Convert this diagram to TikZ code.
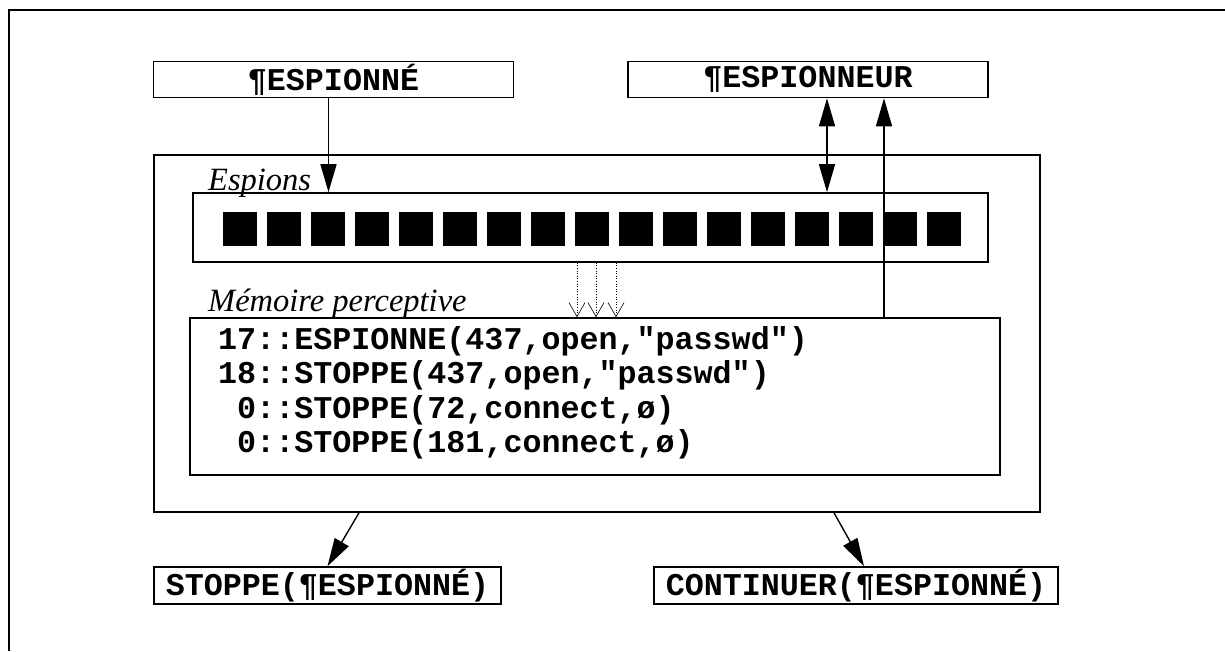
\documentclass[tikz,border=0pt]{standalone}
\usepackage{fontspec}
\setmainfont{Liberation Serif}
\setmonofont{Liberation Mono}
\usepackage{tikz}
\usetikzlibrary{arrows.meta}
\tikzstyle{namebox} = [draw=black, line width=1.6pt, rectangle, inner sep=0pt,
font=\ttfamily\bfseries\fontsize{31.7}{34.5}\selectfont]
\tikzstyle{zone} = [draw=black, line width=1.6pt, rectangle, inner sep=0pt]
\tikzstyle{zonelabel} = [anchor=base west, inner sep=0pt, font=\itshape\fontsize{32.5}{34}\selectfont]
\tikzstyle{fleche} = [line width=1.4pt, -{Triangle[length=28pt,width=16pt]}]
\tikzstyle{fleches} = [line width=1.4pt, {Triangle[length=28pt,width=16pt]}-{Triangle[length=28pt,width=16pt]}]
\tikzstyle{percept} = [line width=0.6pt, dotted, -{Straight Barb[length=14pt,width=16pt,line width=0.6pt]}]

\begin{document}
\begin{tikzpicture}[x=1pt, y=-1pt]
        \useasboundingbox (0,0) rectangle (1225,651);
        \draw[line width=2.5pt] (9,651) -- (9,10) -- (1225,10);
        \node [namebox, minimum width=360pt, minimum height=36pt] (espionne) at (333.5,79.5) {¶ESPIONNÉ};
        \node [namebox, minimum width=360pt, minimum height=36pt] (espionneur) at (808,79.5) {¶ESPIONNEUR};
        \node [zone, minimum width=886pt, minimum height=357pt] (agent) at (597,333.5) {};
        \node [zone, minimum width=795pt, minimum height=69pt] (espions) at (590.5,227.5) {};
        \node [zone, minimum width=810pt, minimum height=157pt] (memoire) at (595,396.5) {};
        \node [zonelabel] (lblespions) at (208,190) {Espions};
        \node [zonelabel] (lblmemoire) at (208,311) {Mémoire perceptive};
        \foreach \i in {0,...,16}
            \fill (223+44*\i,212) rectangle ++(34,34);
        \node [anchor=north west, inner sep=0pt, align=left,
            font=\ttfamily\bfseries\fontsize{31.7}{34.5}\selectfont] (perceptions) at (218,326) {%
            17::ESPIONNE(437,open,"passwd")\\
            18::STOPPE(437,open,"passwd")\\
            \ 0::STOPPE(72,connect,ø)\\
            \ 0::STOPPE(181,connect,ø)};
        \node [namebox, minimum width=347pt, minimum height=37pt] (stoppe) at (327.5,585.5) {STOPPE(¶ESPIONNÉ)};
        \node [namebox, minimum width=404pt, minimum height=37pt] (continuer) at (856,585.5) {CONTINUER(¶ESPIONNÉ)};
        \draw [fleche] ([xshift=-5pt]espionne.south) -- ([xshift=-5pt]espionne.south |- espions.north);
        \draw [fleches] ([xshift=19pt]espionneur.south) -- ([xshift=19pt]espionneur.south |- espions.north);
        \draw [fleche] ([xshift=76pt]espionneur.south |- memoire.north) -- ([xshift=76pt]espionneur.south);
        \foreach \dx in {-13.5,5.5,25.5}
            \draw [percept] ([xshift=\dx pt]espions.south) -- ([xshift=\dx pt]espions.south |- memoire.north);
        \draw [fleche] ([xshift=-238pt]agent.south) -- (stoppe.north);
        \draw [fleche] ([xshift=237pt]agent.south) -- ([xshift=8pt]continuer.north);
    \end{tikzpicture}
\end{document}
